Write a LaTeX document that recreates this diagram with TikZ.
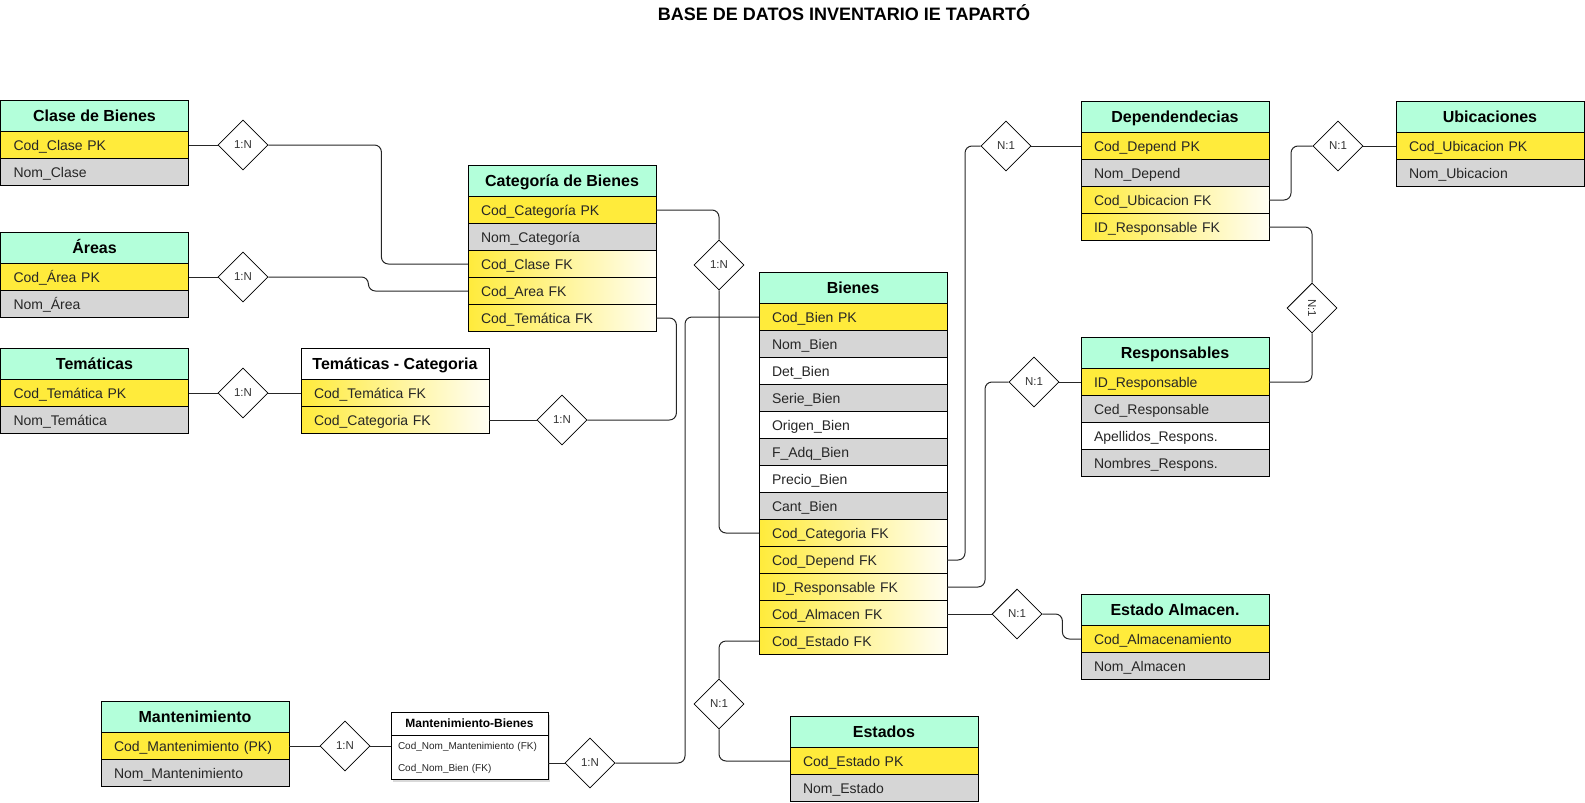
\documentclass[tikz,border=0pt]{standalone}
\usepackage{fontspec}
\setmainfont{Liberation Sans}
\usepackage{tikz}
\usetikzlibrary{positioning}
\usetikzlibrary{shapes.geometric}
\usetikzlibrary{backgrounds,shadows}

\definecolor{hdrgreen}{RGB}{179,255,218}
\definecolor{pkyellow}{RGB}{255,235,59}
\definecolor{attgrey}{RGB}{214,214,214}

\tikzset{
  hdr/.style={draw, line width=0.9pt, fill=hdrgreen, anchor=north west,
    minimum width=188pt, minimum height=31.5pt, inner sep=0pt, outer sep=0pt,
    font=\bfseries\fontsize{16}{18}\selectfont, text height=13pt, text depth=2pt},
  hdrw/.style={hdr, fill=white},
  row/.style={draw, line width=0.9pt, outer sep=0pt, inner xsep=13pt, inner ysep=0pt,
    text width=162pt, align=left, minimum height=27pt, text height=12pt, text depth=2pt,
    font=\fontsize{14}{16}\selectfont, text=black!85},
  pk/.style={row, fill=pkyellow},
  att/.style={row, fill=attgrey},
  plain/.style={row, fill=white},
  fk/.style={row, left color=pkyellow, right color=pkyellow!6},
  mbhdr/.style={draw, line width=0.9pt, fill=white, anchor=north west,
    minimum width=157pt, minimum height=23pt, inner sep=0pt, outer sep=0pt,
    font=\bfseries\fontsize{12}{14}\selectfont, text height=10pt, text depth=2pt},
  mbrow/.style={inner xsep=7pt, inner ysep=0pt, outer sep=0pt, text width=143pt,
    align=left, minimum height=22pt, text height=8.5pt, text depth=1.5pt,
    font=\fontsize{10}{12}\selectfont, text=black!85},
  rel/.style={draw, line width=0.8pt, diamond, aspect=1, minimum width=50pt,
    minimum height=50pt, inner sep=0pt, fill=white, text=black!80,
    font=\fontsize{11.5}{13}\selectfont},
  link/.style={draw=black!85, line width=1pt, rounded corners=7pt},
}

\begin{document}
\begin{tikzpicture}[x=1pt, y=-1pt]
    \useasboundingbox (0,0) rectangle (1585,803);

    \node[font=\bfseries\fontsize{18}{21}\selectfont] (titulo) at (844,13) {BASE DE DATOS INVENTARIO IE TAPARTÓ};

    % tablas de la izquierda
    \node[hdr] (clase) at (0.5,100) {Clase de Bienes};
    \node[pk, below=0pt of clase] (clase1) {Cod\_Clase PK};
    \node[att, below=0pt of clase1] (clase2) {Nom\_Clase};

    \node[hdr] (areas) at (0.5,232) {Áreas};
    \node[pk, below=0pt of areas] (areas1) {Cod\_Área PK};
    \node[att, below=0pt of areas1] (areas2) {Nom\_Área};

    \node[hdr] (tem) at (0.5,348) {Temáticas};
    \node[pk, below=0pt of tem] (tem1) {Cod\_Temática PK};
    \node[att, below=0pt of tem1] (tem2) {Nom\_Temática};

    \node[hdrw] (tc) at (301,348) {Temáticas - Categoria};
    \node[fk, below=0pt of tc] (tc1) {Cod\_Temática FK};
    \node[fk, below=0pt of tc1] (tc2) {Cod\_Categoria FK};

    \node[hdr] (cat) at (468,165) {Categoría de Bienes};
    \node[pk, below=0pt of cat] (cat1) {Cod\_Categoría PK};
    \node[att, below=0pt of cat1] (cat2) {Nom\_Categoría};
    \node[fk, below=0pt of cat2] (cat3) {Cod\_Clase FK};
    \node[fk, below=0pt of cat3] (cat4) {Cod\_Area FK};
    \node[fk, below=0pt of cat4] (cat5) {Cod\_Temática FK};

    % tabla central
    \node[hdr] (bien) at (759,272) {Bienes};
    \node[pk, below=0pt of bien] (b1) {Cod\_Bien PK};
    \node[att, below=0pt of b1] (b2) {Nom\_Bien};
    \node[plain, below=0pt of b2] (b3) {Det\_Bien};
    \node[att, below=0pt of b3] (b4) {Serie\_Bien};
    \node[plain, below=0pt of b4] (b5) {Origen\_Bien};
    \node[att, below=0pt of b5] (b6) {F\_Adq\_Bien};
    \node[plain, below=0pt of b6] (b7) {Precio\_Bien};
    \node[att, below=0pt of b7] (b8) {Cant\_Bien};
    \node[fk, below=0pt of b8] (b9) {Cod\_Categoria FK};
    \node[fk, below=0pt of b9] (b10) {Cod\_Depend FK};
    \node[fk, below=0pt of b10] (b11) {ID\_Responsable FK};
    \node[fk, below=0pt of b11] (b12) {Cod\_Almacen FK};
    \node[fk, below=0pt of b12] (b13) {Cod\_Estado FK};

    % tablas de la derecha
    \node[hdr] (dep) at (1081,101) {Dependendecias};
    \node[pk, below=0pt of dep] (dep1) {Cod\_Depend PK};
    \node[att, below=0pt of dep1] (dep2) {Nom\_Depend};
    \node[fk, below=0pt of dep2] (dep3) {Cod\_Ubicacion FK};
    \node[fk, below=0pt of dep3] (dep4) {ID\_Responsable FK};

    \node[hdr] (ubi) at (1396,101) {Ubicaciones};
    \node[pk, below=0pt of ubi] (ubi1) {Cod\_Ubicacion PK};
    \node[att, below=0pt of ubi1] (ubi2) {Nom\_Ubicacion};

    \node[hdr] (resp) at (1081,337) {Responsables};
    \node[pk, below=0pt of resp] (resp1) {ID\_Responsable};
    \node[att, below=0pt of resp1] (resp2) {Ced\_Responsable};
    \node[plain, below=0pt of resp2] (resp3) {Apellidos\_Respons.};
    \node[att, below=0pt of resp3] (resp4) {Nombres\_Respons.};

    \node[hdr] (alm) at (1081,594) {Estado Almacen.};
    \node[pk, below=0pt of alm] (alm1) {Cod\_Almacenamiento};
    \node[att, below=0pt of alm1] (alm2) {Nom\_Almacen};

    \node[hdr] (est) at (790,716) {Estados};
    \node[pk, below=0pt of est] (est1) {Cod\_Estado PK};
    \node[att, below=0pt of est1] (est2) {Nom\_Estado};

    % tablas de abajo
    \node[hdr] (mant) at (101,701) {Mantenimiento};
    \node[pk, below=0pt of mant] (mant1) {Cod\_Mantenimiento (PK)};
    \node[att, below=0pt of mant1] (mant2) {Nom\_Mantenimiento};

    \node[mbhdr] (mbien) at (391,712) {Mantenimiento-Bienes};
    \node[mbrow, below=0pt of mbien] (mbien1) {Cod\_Nom\_Mantenimiento (FK)};
    \node[mbrow, below=0pt of mbien1] (mbien2) {Cod\_Nom\_Bien (FK)};
    \begin{scope}[on background layer]
      \draw[line width=0.9pt, fill=white, drop shadow={shadow xshift=2pt, shadow yshift=-3pt, opacity=0.3}]
        (mbien.north west) rectangle (mbien2.south east);
    \end{scope}

    % relaciones
    \node[rel] (rclase) at (243,145) {1:N};
    \node[rel] (rarea) at (243,277) {1:N};
    \node[rel] (rtem) at (243,393) {1:N};
    \node[rel] (rtc) at (562,420) {1:N};
    \node[rel] (rcat) at (719,265) {1:N};
    \node[rel] (rdep) at (1006,146) {N:1};
    \node[rel] (rubi) at (1338,146) {N:1};
    \node[rel, rotate=-90] (rdepresp) at (1312,308) {N:1};
    \node[rel] (rresp) at (1034,382) {N:1};
    \node[rel] (ralm) at (1017,614) {N:1};
    \node[rel] (rest) at (719,704) {N:1};
    \node[rel] (rmant) at (345,746) {1:N};
    \node[rel] (rmb) at (590,763) {1:N};

    \draw[link] (clase1) -- (rclase);
    \draw[link] (rclase.east) -- ++(113,0) |- (cat3.west);
    \draw[link] (areas1) -- (rarea);
    \draw[link] (rarea.east) -- ++(100,0) |- (cat4.west);
    \draw[link] (tem1) -- (rtem);
    \draw[link] (rtem) -- (tc1);
    \draw[link] (tc2) -- (rtc);
    \draw[link] (rtc.east) -- ++(89,0) |- (cat5.east);
    \draw[link] (cat1) -| (rcat);
    \draw[link] (rcat) |- (b9);
    \draw[link] (b1.west) -- ++(-74,0) |- (rmb);
    \draw[link] (mbien2.east |- rmb) -- (rmb);
    \draw[link] (mant1) -- (rmant);
    \draw[link] (rmant) -- (mbien1);
    \draw[link] (b13.west) -| (rest);
    \draw[link] (rest) |- (est1);
    \draw[link] (b10.east) -- ++(18,0) |- (rdep);
    \draw[link] (rdep) -- (dep1);
    \draw[link] (b11.east) -- ++(38,0) |- (rresp);
    \draw[link] (rresp) -- (resp1);
    \draw[link] (dep3.east) -- ++(22,0) |- (rubi);
    \draw[link] (rubi) -- (ubi1);
    \draw[link] (dep4.east) -| (rdepresp);
    \draw[link] (rdepresp) |- (resp1.east);
    \draw[link] (b12) -- (ralm);
    \draw[link] (ralm.east) -- ++(20,0) |- (alm1);
  \end{tikzpicture}
\end{document}
